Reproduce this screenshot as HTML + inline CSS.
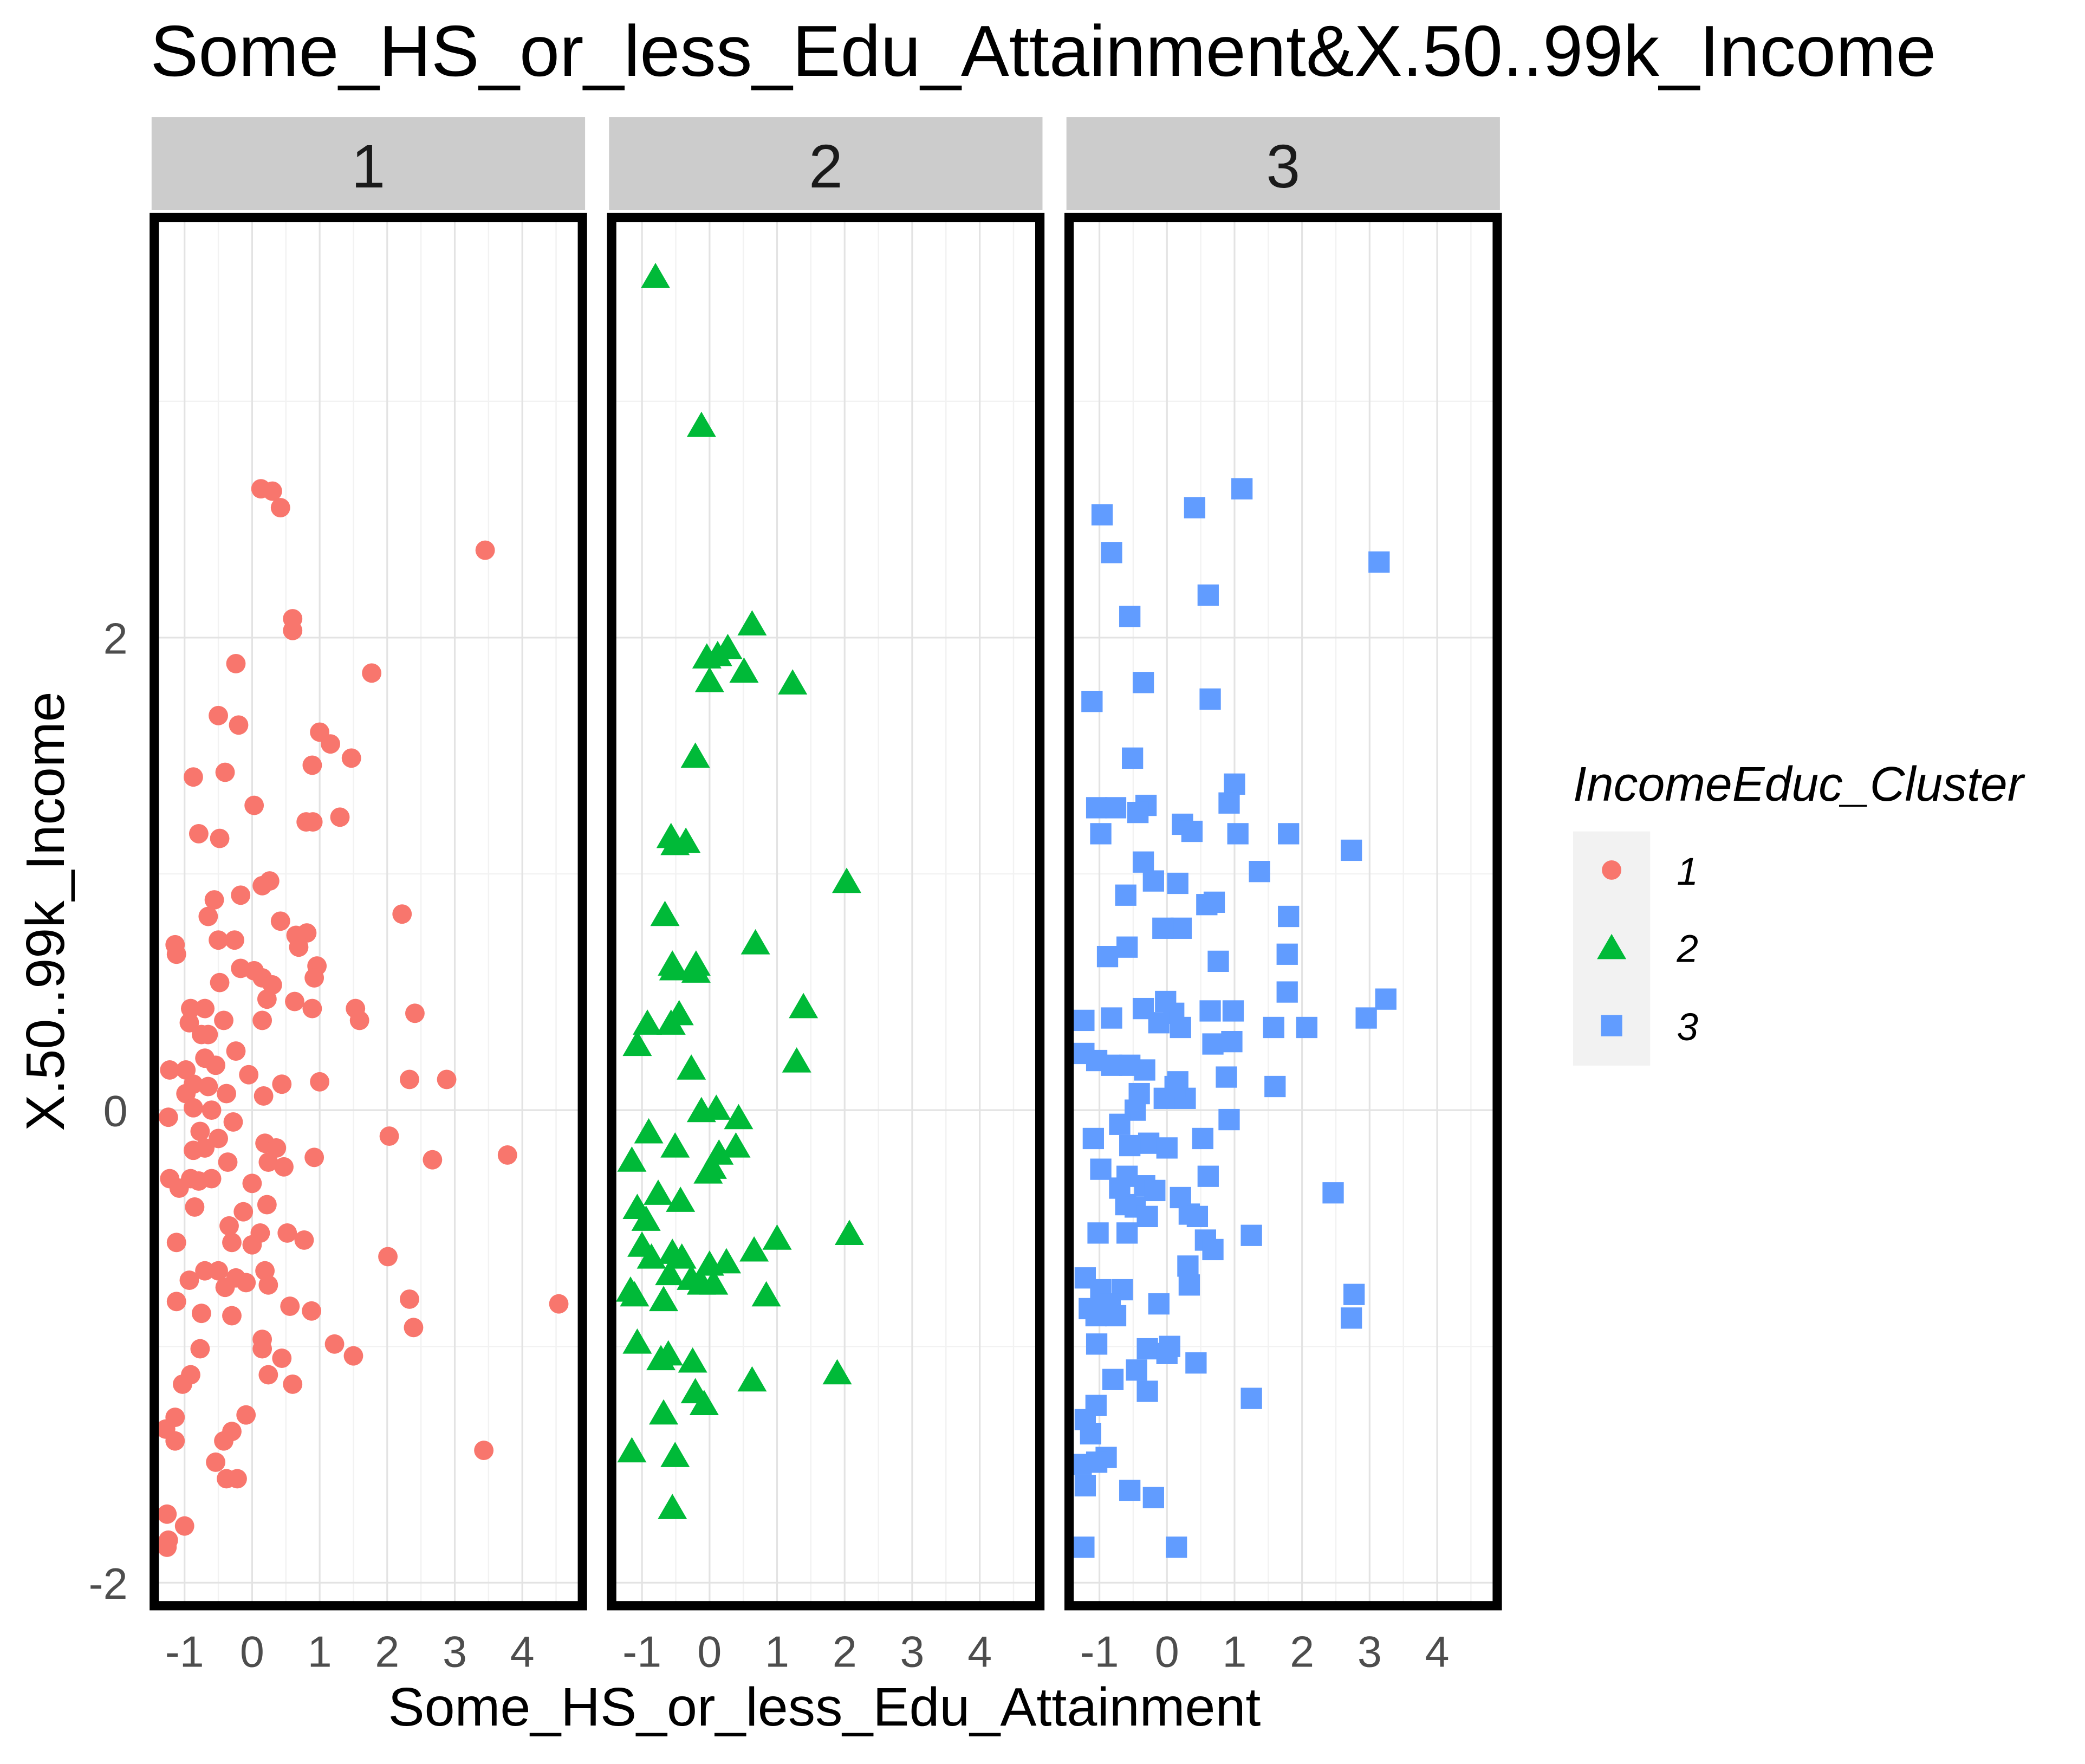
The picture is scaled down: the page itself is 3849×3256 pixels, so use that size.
<!DOCTYPE html>
<html><head><meta charset="utf-8"><style>
html,body{margin:0;padding:0;background:#fff;}
svg{display:block;font-family:"Liberation Sans",Arial,sans-serif;}
</style></head><body>
<svg id="chart" width="3849" height="3256" viewBox="0 0 1568 1326" preserveAspectRatio="none" xmlns="http://www.w3.org/2000/svg">
<rect width="1568" height="1326" fill="#fff"/>
<text x="113" y="57" font-size="54.3" fill="#000">Some_HS_or_less_Edu_Attainment&amp;X.50..99k_Income</text>
<text x="620" y="1297" font-size="41" text-anchor="middle" fill="#000">Some_HS_or_less_Edu_Attainment</text>
<text transform="translate(48,685) rotate(-90)" font-size="41" text-anchor="middle" fill="#000">X.50..99k_Income</text>
<g id="panels"></g>
<g>
<text x="1183" y="602" font-size="36.5" font-style="italic" fill="#000">IncomeEduc_Cluster</text>
<rect x="1183" y="625" width="58" height="176" fill="#f2f2f2"/>
<g id="legend-keys"></g>
</g>
</svg>
<script>
const xTicks = [-1, 0, 1, 2, 3, 4];
const yTicks = [-2, 0, 2];
const clusters = ["1", "2", "3"];
const colors = ["#F8766D", "#00BA38", "#619CFF"];
const c1x = [0.13,0.3,0.42,3.45,0.6,0.6,-0.24,1.77,-0.5,-0.2,1.0,1.16,1.47,0.89,-0.87,-0.4,0.03,1.3,0.8,0.9,-0.79,-0.48,0.26,0.15,-0.17,-0.56,-0.65,2.22,0.42,0.81,-0.5,-0.26,0.65,0.69,-1.14,-1.12,-0.17,0.03,0.96,0.15,0.3,0.92,-0.48,0.22,0.63,-0.91,-0.7,0.89,1.53,1.59,2.41,-0.93,-0.42,0.15,-0.75,-0.65,-0.24,-0.7,-1.22,-0.98,-0.54,-0.87,-0.05,1.0,2.33,2.88,-0.65,0.44,0.17,-0.98,-0.38,-0.87,-0.6,-1.24,-0.28,-0.77,-0.5,2.03,0.19,0.36,-0.7,-0.87,3.78,0.92,2.67,0.24,0.47,-0.36,-1.22,-1.08,-0.91,-0.6,-0.79,0,0.22,-0.85,-0.13,-0.34,0.52,0.77,-1.12,-0.3,0,0.12,2.01,-0.7,-0.5,0.19,-0.24,0.24,-0.93,-0.09,-0.4,0.56,0.88,-1.12,-0.75,-0.3,2.33,2.39,4.54,0.15,0.15,1.22,1.5,-0.77,0.44,0.24,0.6,-0.91,-1.03,-1.14,-0.09,-1.28,-0.3,-1.14,-0.42,3.43,-0.54,-0.38,-0.22,-1.26,-1.0,-1.24,-1.26];
const c1y = [2.63,2.62,2.55,2.37,2.08,2.03,1.89,1.85,1.67,1.63,1.6,1.55,1.49,1.46,1.41,1.43,1.29,1.24,1.22,1.22,1.17,1.15,0.97,0.95,0.91,0.89,0.82,0.83,0.8,0.75,0.72,0.72,0.74,0.69,0.7,0.66,0.6,0.59,0.61,0.56,0.53,0.56,0.54,0.47,0.46,0.43,0.43,0.43,0.43,0.38,0.41,0.37,0.38,0.38,0.32,0.32,0.25,0.22,0.17,0.17,0.19,0.11,0.15,0.12,0.13,0.13,0.1,0.11,0.06,0.07,0.07,0.01,0,-0.03,-0.05,-0.09,-0.12,-0.11,-0.14,-0.16,-0.16,-0.17,-0.19,-0.2,-0.21,-0.22,-0.24,-0.22,-0.29,-0.33,-0.29,-0.29,-0.3,-0.31,-0.4,-0.41,-0.43,-0.49,-0.52,-0.55,-0.56,-0.56,-0.57,-0.52,-0.62,-0.68,-0.68,-0.68,-0.71,-0.74,-0.72,-0.73,-0.75,-0.83,-0.85,-0.81,-0.86,-0.87,-0.8,-0.92,-0.82,-0.97,-1.01,-0.99,-1.04,-1.01,-1.05,-1.12,-1.16,-1.12,-1.16,-1.3,-1.29,-1.35,-1.36,-1.4,-1.4,-1.44,-1.49,-1.56,-1.56,-1.71,-1.76,-1.82,-1.85];
const c2x = [-0.8,-0.12,0.63,0.27,-0.04,0.12,0.51,0,1.23,-0.21,-0.57,-0.35,-0.51,2.03,-0.66,0.68,-0.55,-0.2,-0.2,-0.53,1.39,-0.45,-0.92,-0.57,-1.07,1.29,-0.27,-0.12,0.1,0.43,-0.9,0.39,-0.51,0.14,-1.15,0.04,-0.02,-0.76,-0.43,-1.07,-0.94,2.07,1.0,-1.0,-0.55,0.66,-0.86,-0.41,0.25,-0.59,0,-0.27,-0.12,0.06,-1.17,-1.11,0.84,-0.68,-1.07,-0.25,-0.72,-0.61,1.89,0.63,-0.21,-0.08,-0.68,-1.15,-0.51,-0.55];
const c2y = [3.53,2.9,2.06,1.96,1.92,1.93,1.86,1.82,1.81,1.5,1.16,1.14,1.13,0.97,0.83,0.71,0.62,0.62,0.59,0.6,0.44,0.41,0.37,0.37,0.28,0.21,0.18,0,0.01,-0.03,-0.09,-0.15,-0.15,-0.18,-0.21,-0.24,-0.26,-0.35,-0.38,-0.41,-0.46,-0.52,-0.54,-0.57,-0.6,-0.59,-0.62,-0.62,-0.64,-0.69,-0.65,-0.71,-0.73,-0.73,-0.76,-0.78,-0.78,-0.8,-0.98,-1.06,-1.05,-1.03,-1.11,-1.14,-1.19,-1.24,-1.28,-1.44,-1.46,-1.68];
const c3x = [1.11,-0.96,0.41,-0.82,3.14,0.61,-0.55,-0.35,0.64,-1.11,-0.51,1.0,0.92,-0.31,-1.04,-0.76,-0.43,0.23,0.37,1.05,1.8,-0.98,2.73,-0.35,1.37,-0.2,0.16,0.7,0.59,-0.61,1.8,0.21,-0.06,-0.59,-0.88,1.78,0.76,1.78,3.24,-0.02,-0.35,0.1,0.64,0.98,-0.82,-1.23,2.95,-0.12,0.2,1.58,2.07,0.68,0.96,-1.23,-1.04,-0.55,-0.33,-0.82,0.16,0.88,1.6,-0.41,-0.04,0.27,0.12,-0.47,0.92,-0.7,-1.09,0.53,-0.27,-0.55,0,-0.98,-0.59,0.61,-0.33,-0.18,-0.7,2.46,-0.61,0.2,-0.47,0.33,0.45,-0.29,-1.02,-0.59,1.25,0.57,0.68,0.31,0.33,-1.21,-0.98,-0.66,-0.84,-1.05,-1.15,-0.76,-0.12,2.77,2.73,-1.04,-0.29,0.04,0,0.43,-0.45,-0.8,-0.29,1.25,-1.05,-1.21,-1.13,-0.9,-1.04,-1.27,-1.21,-0.55,-0.2,-1.23,0.14];
const c3y = [2.63,2.52,2.55,2.36,2.32,2.18,2.09,1.81,1.74,1.73,1.49,1.38,1.3,1.29,1.28,1.28,1.26,1.21,1.18,1.17,1.17,1.17,1.1,1.05,1.01,0.97,0.96,0.88,0.87,0.91,0.82,0.77,0.77,0.69,0.65,0.66,0.63,0.5,0.47,0.46,0.43,0.41,0.42,0.42,0.39,0.38,0.39,0.37,0.35,0.35,0.35,0.28,0.29,0.24,0.21,0.19,0.17,0.19,0.12,0.14,0.1,0.07,0.05,0.05,0.1,0,-0.04,-0.06,-0.12,-0.12,-0.14,-0.15,-0.16,-0.25,-0.28,-0.28,-0.32,-0.34,-0.33,-0.35,-0.4,-0.37,-0.41,-0.44,-0.45,-0.45,-0.52,-0.52,-0.53,-0.55,-0.59,-0.66,-0.74,-0.71,-0.76,-0.76,-0.82,-0.87,-0.84,-0.87,-0.82,-0.78,-0.88,-0.99,-1.01,-1.0,-1.03,-1.07,-1.1,-1.14,-1.19,-1.22,-1.25,-1.31,-1.37,-1.47,-1.49,-1.5,-1.59,-1.61,-1.64,-1.85,-1.85];

const NS = "http://www.w3.org/2000/svg";
const panelLefts = [116, 460, 804];
const panelW = 322, boxTop = 163.5, boxBottom = 1207;
const xZeroOff = 73.6, xUnit = 50.8;
const yZero = 834.5, yUnit = 177.6;
function xScale(p, v){ return panelLefts[p] + xZeroOff + v * xUnit; }
function yScale(v){ return yZero - v * yUnit; }
function mk(tag, attrs, parent){ const e = document.createElementNS(NS, tag); for (const k in attrs) e.setAttribute(k, attrs[k]); parent.appendChild(e); return e; }
function marker(shape, cx, cy, color, parent){
  let e;
  if (shape === 0) e = mk("circle", {cx: cx, cy: cy, r: 7.3, fill: color}, parent);
  else if (shape === 1) e = mk("polygon", {points: `${cx},${cy-10} ${cx+11},${cy+9} ${cx-11},${cy+9}`, fill: color}, parent);
  else e = mk("rect", {x: cx-8, y: cy-8, width: 16, height: 16, fill: color}, parent);
  return e;
}
const panels = document.getElementById("panels");
const xs = [c1x, c2x, c3x], ys = [c1y, c2y, c3y];
for (let p = 0; p < 3; p++){
  const g = mk("g", {}, panels);
  
  
  const L = panelLefts[p];
  const strip = mk("rect", {x: L - 2, y: 88, width: panelW + 4, height: 70, fill: "#cccccc"}, g);
  
  
  const st = mk("text", {x: L + panelW/2, y: 141, "font-size": 46, "text-anchor": "middle", fill: "#1a1a1a"}, g);
  st.textContent = clusters[p];
  
  
  for (let v = -1.5; v <= 4.5; v += 1) mk("line", {x1: xScale(p, v), x2: xScale(p, v), y1: boxTop, y2: boxBottom, stroke: "#f2f2f2", "stroke-width": 1}, g);
  for (let v = -1; v <= 3; v += 2) mk("line", {x1: L, x2: L + panelW, y1: yScale(v), y2: yScale(v), stroke: "#f2f2f2", "stroke-width": 1}, g);
  xTicks.forEach(t => {
    const gl = mk("line", {x1: xScale(p, t), x2: xScale(p, t), y1: boxTop, y2: boxBottom, stroke: "#e3e3e3", "stroke-width": 1.3}, g);
    
    
    const tl = mk("text", {x: xScale(p, t), y: 1253, "font-size": 33, "text-anchor": "middle", fill: "#4d4d4d"}, g);
    tl.textContent = String(t);
    
    
  });
  yTicks.forEach(t => {
    const gl = mk("line", {x1: L, x2: L + panelW, y1: yScale(t), y2: yScale(t), stroke: "#e3e3e3", "stroke-width": 1.3}, g);
    
    
    if (p === 0){
      const tl = mk("text", {x: 96, y: yScale(t) + 12, "font-size": 33, "text-anchor": "end", fill: "#4d4d4d"}, g);
      tl.textContent = String(t);
      
      
    }
  });
  for (let i = 0; i < xs[p].length; i++){
    const m = marker(p, xScale(p, xs[p][i]), yScale(ys[p][i]), colors[p], g);
    
    
  }
  const box = mk("rect", {x: L, y: boxTop, width: panelW, height: boxBottom - boxTop, fill: "none", stroke: "#000", "stroke-width": 7}, g);
  
  
}
const lk = document.getElementById("legend-keys");
const keyYs = [654, 712, 771];
for (let i = 0; i < 3; i++){
  const g = mk("g", {}, lk);
  
  
  marker(i, 1212, keyYs[i], colors[i], g);
  const t = mk("text", {x: 1261, y: keyYs[i] + 11, "font-size": 29, "font-style": "italic", fill: "#000"}, g);
  t.textContent = clusters[i];
}
</script>
</body></html>
